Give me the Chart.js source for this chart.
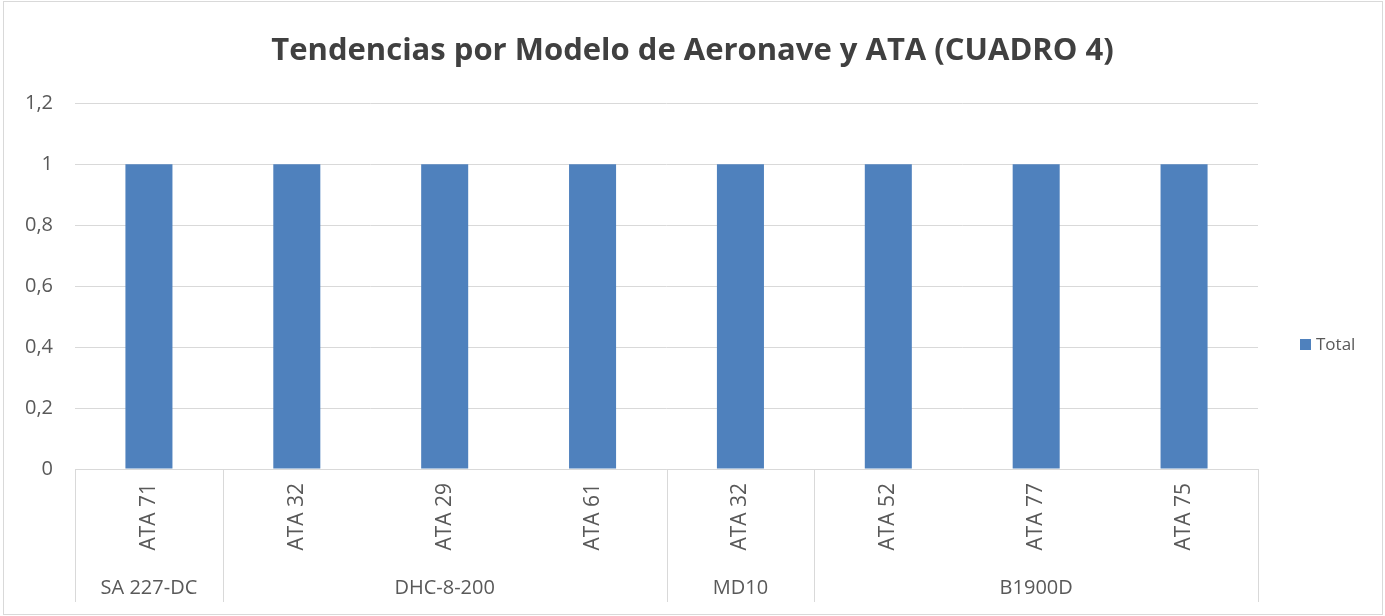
<!DOCTYPE html>
<html>
<head>
<meta charset="utf-8">
<script src="https://cdn.jsdelivr.net/npm/chart.js@4.4.1/dist/chart.umd.min.js"></script>
<style>
  html, body { margin: 0; padding: 0; background: #fff; }
  #wrap { position: relative; width: 1385px; height: 616px; }
  #frame { position: absolute; left: 3px; top: 1px; width: 1380px; height: 614px; box-sizing: border-box; border: 1px solid #d9d9d9; pointer-events: none; }
</style>
</head>
<body>
<div id="wrap">
  <canvas id="chart" width="1385" height="616"></canvas>
  <div id="frame"></div>
</div>
<script>
// chart data
const categories = ['ATA 71','ATA 32','ATA 29','ATA 61','ATA 32','ATA 52','ATA 77','ATA 75'];
const groups = ['SA 227-DC','DHC-8-200','MD10','B1900D'];
const groupSizes = [1,3,1,3];
const totals = [1,1,1,1,1,1,1,1];
const yMax = 1.2;
const yStep = 0.2;

const FONT = "'Open Sans', sans-serif";
const TXT = '#595959';
const GRID = '#d9d9d9';

// group labels + separators under the category labels (Excel multi-level axis)
const groupAxis = {
  id: 'groupAxis',
  afterDraw(chart) {
    const ctx = chart.ctx, x = chart.scales.x, area = chart.chartArea;
    const half = (x.getPixelForTick(1) - x.getPixelForTick(0)) / 2;
    const bottom = area.bottom + 133;
    ctx.save();
    ctx.strokeStyle = GRID;
    ctx.lineWidth = 1;
    ctx.beginPath();
    ctx.moveTo(area.left, area.bottom + 0.5);
    ctx.lineTo(area.right, area.bottom + 0.5);
    let idx = 0;
    const edges = [area.left];
    groups.forEach((g, gi) => {
      idx += groupSizes[gi];
      edges.push(gi === groups.length - 1 ? area.right : x.getPixelForTick(idx - 1) + half);
    });
    edges.forEach(e => {
      const px = Math.round(e) + 0.5;
      ctx.moveTo(px, area.bottom);
      ctx.lineTo(px, bottom);
    });
    ctx.stroke();

    ctx.fillStyle = TXT;
    ctx.font = '20px ' + FONT;
    ctx.textAlign = 'center';
    ctx.textBaseline = 'middle';
    let start = 0;
    groups.forEach((g, gi) => {
      const end = start + groupSizes[gi] - 1;
      const cx = (x.getPixelForTick(start) + x.getPixelForTick(end)) / 2;
      ctx.fillText(g, cx, area.bottom + 119);
      start = end + 1;
    });
    ctx.restore();
  }
};

// legend on the right, drawn from the dataset
const sideLegend = {
  id: 'sideLegend',
  afterDraw(chart) {
    const ctx = chart.ctx;
    const ds = chart.data.datasets[0];
    const y = 345;
    ctx.save();
    ctx.fillStyle = ds.backgroundColor;
    ctx.fillRect(1300, y - 6, 11, 11);
    ctx.fillStyle = TXT;
    ctx.font = '17px ' + FONT;
    ctx.textAlign = 'left';
    ctx.textBaseline = 'middle';
    ctx.fillText(ds.label, 1316, y);
    ctx.restore();
  }
};

new Chart(document.getElementById('chart').getContext('2d'), {
  type: 'bar',
  data: {
    labels: categories,
    datasets: [{ label: 'Total', data: totals, backgroundColor: '#4f81bd', barPercentage: 0.318, categoryPercentage: 1 }]
  },
  options: {
    responsive: false,
    devicePixelRatio: 1,
    animation: false,
    layout: { padding: 0 },
    plugins: {
      legend: { display: false },
      tooltip: { enabled: false },
      title: {
        display: true,
        text: 'Tendencias por Modelo de Aeronave y ATA (CUADRO 4)',
        color: '#404040',
        font: { family: FONT, size: 31, weight: 'bold' },
        padding: { top: 33, bottom: 33 }
      }
    },
    scales: {
      x: {
        grid: { display: false, drawTicks: false },
        border: { display: false },
        ticks: { color: TXT, font: { family: FONT, size: 21 }, minRotation: 90, maxRotation: 90, padding: 14, autoSkip: false },
        afterFit(scale) { scale.height = 147; }
      },
      y: {
        min: 0,
        max: yMax,
        grid: { color: GRID, lineWidth: 1, drawTicks: false },
        border: { display: false },
        ticks: {
          stepSize: yStep,
          color: TXT,
          font: { family: FONT, size: 20 },
          padding: 22,
          callback: v => String(Number(v.toFixed(1))).replace('.', ',')
        },
        afterFit(scale) { scale.width = 75; }
      },
      // empty box on the right that keeps room for the legend
      legendSpace: {
        position: 'right',
        grid: { display: false, drawTicks: false },
        border: { display: false },
        ticks: { display: false },
        afterFit(scale) { scale.width = 127; }
      }
    }
  },
  plugins: [groupAxis, sideLegend]
});
</script>
</body>
</html>
